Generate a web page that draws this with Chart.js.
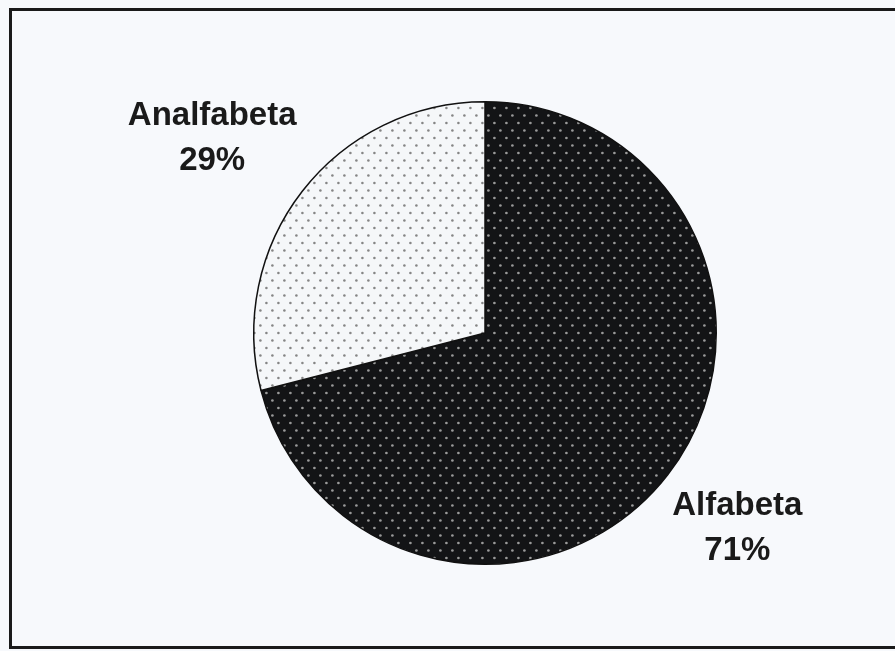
<!DOCTYPE html>
<html>
<head>
<meta charset="utf-8">
<script src="https://cdn.jsdelivr.net/npm/chart.js@4/dist/chart.umd.min.js"></script>
<style>
  html, body { margin: 0; padding: 0; background: #f7f9fc; }
  #wrap { width: 895px; height: 651px; position: relative; }
</style>
</head>
<body>
<div id="wrap"><canvas id="c" width="895" height="651"></canvas></div>
<script>
// ---- data ----
const categories = ['Alfabeta', 'Analfabeta'];
const percentValues = [71, 29];

// ---- dot patterns ----
function dotPattern(bg, dot, w, h, r) {
  const t = document.createElement('canvas');
  t.width = w; t.height = h;
  const g = t.getContext('2d');
  g.fillStyle = bg; g.fillRect(0, 0, w, h);
  g.fillStyle = dot;
  g.beginPath(); g.arc(w * 0.2, h * 0.2, r, 0, Math.PI * 2); g.fill();
  g.beginPath(); g.arc(w * 0.7, h * 0.7, r, 0, Math.PI * 2); g.fill();
  return g.createPattern(t, 'repeat');
}
const ctx0 = document.getElementById('c').getContext('2d');
const fills = [
  dotPattern('#131416', '#9a9a9a', 12, 15, 1.35),
  dotPattern('#f5f7f9', '#858585', 12, 15, 1.3)
];

// ---- plugins ----
const framePlugin = {
  id: 'frame',
  beforeDraw(chart) {
    const c = chart.ctx;
    c.save();
    c.fillStyle = '#f7f9fc';
    c.fillRect(0, 0, chart.width, chart.height);
    c.strokeStyle = '#1a1a1a';
    c.lineWidth = 3;
    c.strokeRect(10.5, 9.5, 900, 638);
    c.restore();
  }
};

const labelPlugin = {
  id: 'sliceLabels',
  afterDatasetsDraw(chart, args, opts) {
    const c = chart.ctx;
    const meta = chart.getDatasetMeta(0);
    c.save();
    c.fillStyle = '#1a1a1a';
    c.font = 'bold 33px "Liberation Sans", Arial, sans-serif';
    c.textAlign = 'center';
    c.textBaseline = 'alphabetic';
    meta.data.forEach((arc, i) => {
      const p = arc.getProps(['x', 'y', 'startAngle', 'endAngle', 'outerRadius'], true);
      const mid = (p.startAngle + p.endAngle) / 2 + (opts.angleShift[i] || 0);
      const d = p.outerRadius * opts.radiusFactor[i];
      const cx = p.x + Math.cos(mid) * d;
      const cy = p.y + Math.sin(mid) * d;
      c.fillText(chart.data.labels[i], cx + 2, cy - 12);
      c.fillText(chart.data.datasets[0].data[i] + '%', cx + 2, cy + 33);
    });
    c.restore();
  }
};

new Chart(ctx0, {
  type: 'pie',
  data: {
    labels: categories,
    datasets: [{
      data: percentValues,
      backgroundColor: fills,
      borderColor: '#111111',
      borderWidth: 1.5
    }]
  },
  options: {
    responsive: false,
    animation: false,
    layout: { padding: { left: 253, right: 178, top: 101, bottom: 86 } },
    plugins: {
      legend: { display: false },
      tooltip: { enabled: false },
      sliceLabels: { radiusFactor: [1.37, 1.46], angleShift: [0, -0.04] }
    }
  },
  plugins: [framePlugin, labelPlugin]
});
</script>
</body>
</html>
